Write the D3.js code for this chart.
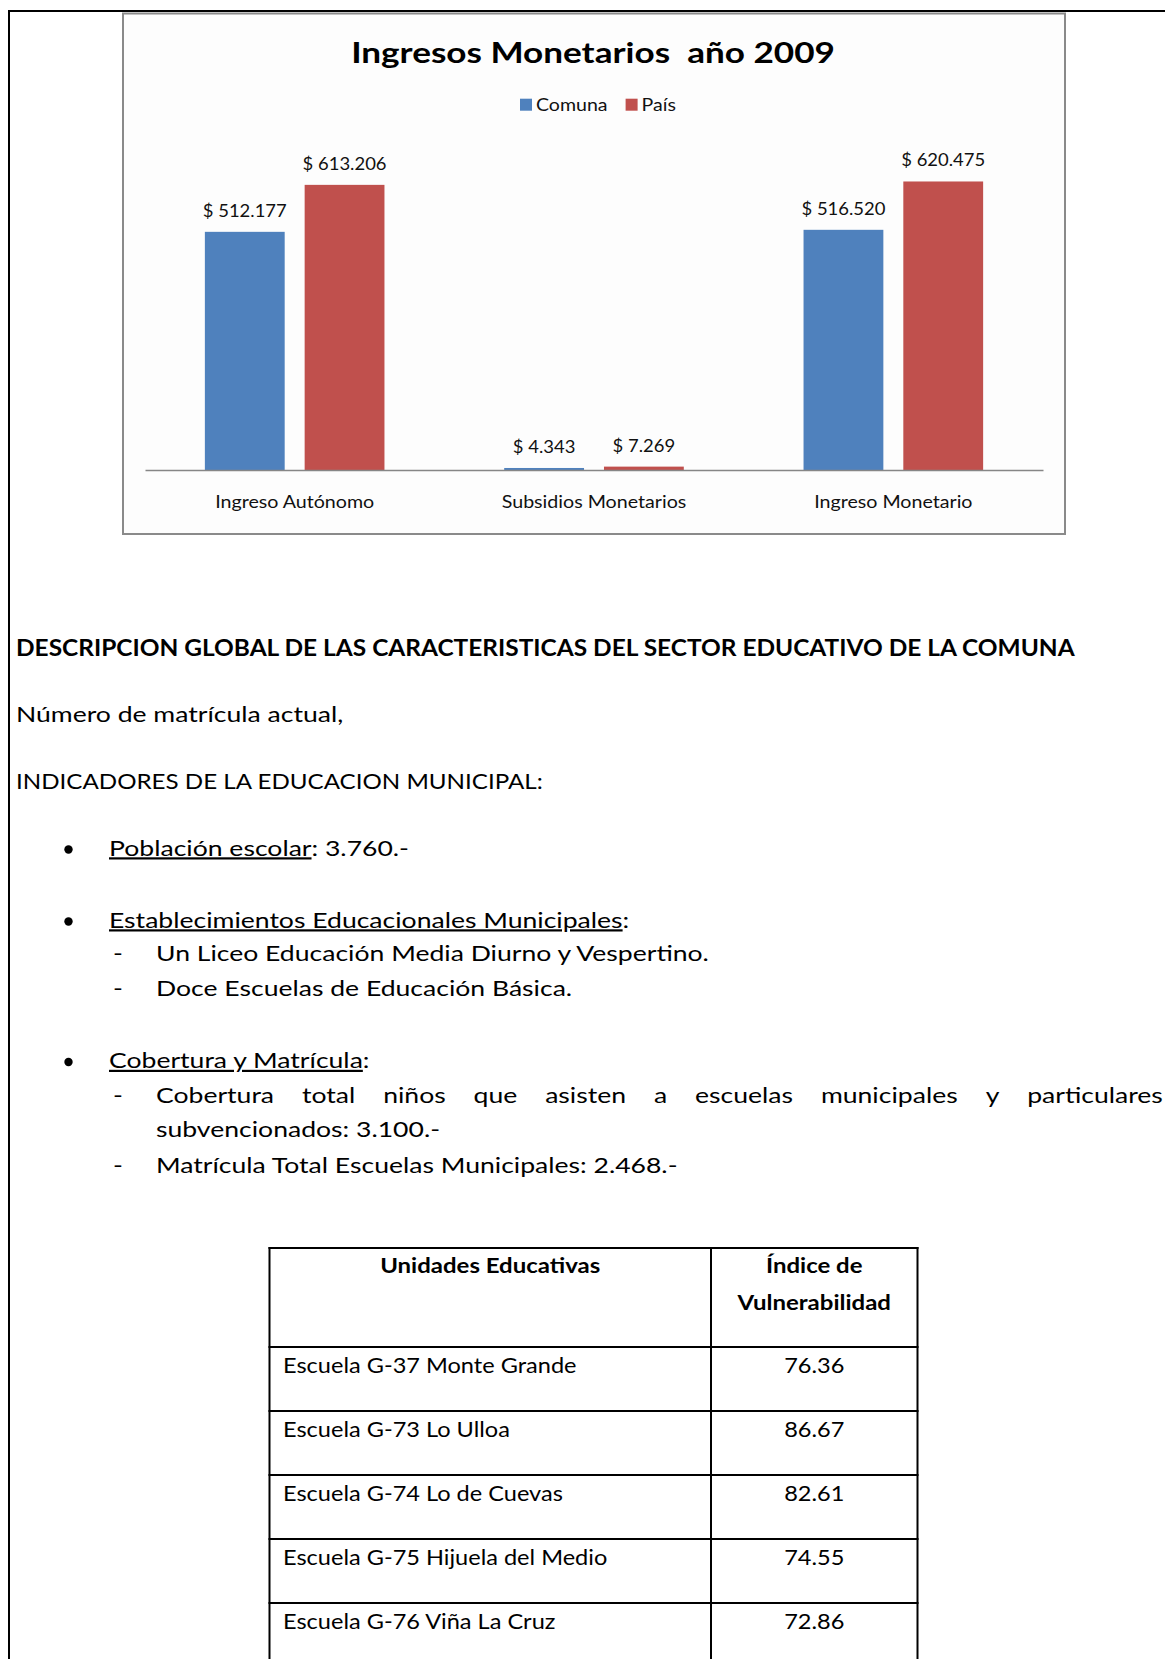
<!DOCTYPE html>
<html><head><meta charset="utf-8">
<script src="https://cdn.jsdelivr.net/npm/d3@7"></script>
<style>
html,body{margin:0;padding:0;background:#fff;}
svg{display:block;}
text{font-family:Lato,"Open Sans",sans-serif;white-space:pre;}
</style></head><body>
<svg id="page" width="1165" height="1659"></svg>
<script>
// ---------------- DATA ----------------
const categories = ["Ingreso Autónomo", "Subsidios Monetarios", "Ingreso Monetario"];
const seriesNames = ["Comuna", "País"];
const comunaValues = [512177, 4343, 516520];
const paisValues = [613206, 7269, 620475];
const chartTitle = "Ingresos Monetarios  año 2009";
const yMax = 700000;

const sectionHeading = "DESCRIPCION GLOBAL DE LAS CARACTERISTICAS DEL SECTOR EDUCATIVO DE LA COMUNA";
const paragraphs = ["Número de matrícula actual,", "INDICADORES DE LA EDUCACION MUNICIPAL:"];
const bulletLabels = ["Población escolar", "Establecimientos Educacionales Municipales", "Cobertura y Matrícula"];
const bulletRests = [": 3.760.-", ":", ":"];
const subItems1 = ["Un Liceo Educación Media Diurno y Vespertino.", "Doce Escuelas de Educación Básica."];
const justifiedWords = ["Cobertura", "total", "niños", "que", "asisten", "a", "escuelas", "municipales", "y", "particulares"];
const continuation = "subvencionados: 3.100.-";
const subItem3b = "Matrícula Total Escuelas Municipales: 2.468.-";

const tableHeaders = [["Unidades Educativas"], ["Índice de", "Vulnerabilidad"]];
const schools = ["Escuela G-37 Monte Grande", "Escuela G-73 Lo Ulloa", "Escuela G-74 Lo de Cuevas", "Escuela G-75 Hijuela del Medio", "Escuela G-76 Viña La Cruz"];
const vulnerability = ["76.36", "86.67", "82.61", "74.55", "72.86"];

// ---------------- HELPERS ----------------
const svg = d3.select("#page");
svg.append("rect").attr("width", 1165).attr("height", 1659).attr("fill", "#fff");

function measure(str, size, weight) {
  const t = svg.append("text").attr("font-size", size).attr("font-weight", weight).text(str);
  const w = t.node().getComputedTextLength();
  t.remove();
  return w;
}
function addText(parent, str, x, y, size, weight, sx, anchor, fill) {
  return parent.append("text")
    .attr("transform", `translate(${x},${y}) scale(${sx},1)`)
    .attr("font-size", size).attr("font-weight", weight)
    .attr("text-anchor", anchor || "start")
    .attr("fill", fill || "#000")
    .text(str);
}

const fmt = d3.formatLocale({decimal: ",", thousands: ".", grouping: [3], currency: ["$ ", ""]}).format("$,d");

// horizontal stretch calibration (reference image is horizontally stretched)
const sxTitle = 484 / measure(chartTitle, 29, 700);
const sxCat = 184.7 / measure(categories[1], 16.5, 400);
const sxLab = 84 / measure(fmt(comunaValues[0]), 17, 400);
const sxLeg = 71.6 / measure(seriesNames[0], 16.5, 400);
const sxHead = 1059 / measure(sectionHeading, 22, 700);
const sxBody = 522 / measure(subItem3b, 22, 400);
const sxCaps = 527 / measure(paragraphs[1], 22, 400);
const sxTH = 220.3 / measure(tableHeaders[0][0], 21, 700);
const sxRow = 324.4 / measure(schools[3], 22, 400);

// ---------------- PAGE BORDER ----------------
svg.append("line").attr("x1", 8).attr("x2", 1165).attr("y1", 11).attr("y2", 11).attr("stroke", "#000").attr("stroke-width", 2);
svg.append("line").attr("x1", 9).attr("x2", 9).attr("y1", 10).attr("y2", 1659).attr("stroke", "#000").attr("stroke-width", 2);

// ---------------- CHART ----------------
const chart = svg.append("g");
chart.append("rect").attr("x", 123).attr("y", 13.5).attr("width", 942).attr("height", 520.5)
  .attr("fill", "#fdfdfd").attr("stroke", "#8a8a8a").attr("stroke-width", 2);

const colors = d3.scaleOrdinal().domain(seriesNames).range(["#4F81BD", "#C0504D"]);
const x = d3.scaleBand().domain(categories).range([145, 1043]).padding(0);
const xs = d3.scaleBand().domain(seriesNames).range([0, x.bandwidth()]).paddingInner(0.2).paddingOuter(0.6);
const y = d3.scaleLinear().domain([0, yMax]).range([470, 144.5]);

addText(chart, chartTitle, 593, 63.3, 29, 700, sxTitle, "middle", "#000");

// legend
const legend = chart.append("g");
let lx = 520;
seriesNames.forEach((s) => {
  legend.append("rect").attr("x", lx).attr("y", 98.7).attr("width", 12).attr("height", 12).attr("fill", colors(s));
  addText(legend, s, lx + 16, 110.7, 16.5, 400, sxLeg, "start", "#111");
  lx += 16 + measure(s, 16.5, 400) * sxLeg + 18;
});

const rows = categories.map((c, i) => ({cat: c, vals: [{s: "Comuna", v: comunaValues[i]}, {s: "País", v: paisValues[i]}]}));
const groups = chart.selectAll("g.grp").data(rows).join("g").attr("class", "grp")
  .attr("transform", d => `translate(${x(d.cat)},0)`);
groups.selectAll("rect").data(d => d.vals).join("rect")
  .attr("x", d => xs(d.s)).attr("width", xs.bandwidth())
  .attr("y", d => y(d.v)).attr("height", d => y(0) - y(d.v))
  .attr("fill", d => colors(d.s));
groups.each(function (d) {
  const g = d3.select(this);
  d.vals.forEach(v => {
    addText(g, fmt(v.v), xs(v.s) + xs.bandwidth() / 2, y(v.v) - 15, 17, 400, sxLab, "middle", "#111");
  });
});

const axis = chart.append("g").attr("transform", `translate(0,${y(0)})`)
  .call(d3.axisBottom(x).tickSize(0).tickSizeOuter(0).tickPadding(26.3));
axis.attr("font-family", null).attr("font-size", null);
axis.select(".domain").attr("stroke", "#868686").attr("stroke-width", 1.3);
axis.selectAll(".tick text").attr("font-size", 16.5).attr("fill", "#111")
  .attr("transform", `scale(${sxCat},1)`);

// ---------------- DOCUMENT TEXT ----------------
const doc = svg.append("g");
addText(doc, sectionHeading, 16, 656, 22, 700, sxHead);
addText(doc, paragraphs[0], 16, 722, 22, 400, sxBody);
addText(doc, paragraphs[1], 16, 789, 22, 400, sxCaps);

const bulletY = [855.5, 927.5, 1068];
bulletLabels.forEach((b, i) => {
  doc.append("circle").attr("cx", 68.5).attr("cy", bulletY[i] - 6).attr("r", 4.2).attr("fill", "#000");
  const t = addText(doc, "", 109, bulletY[i], 22, 400, sxBody);
  t.append("tspan").attr("text-decoration", "underline").text(b);
  t.append("tspan").text(bulletRests[i]);
});

function dash(yy) { addText(doc, "-", 113, yy, 22, 400, sxBody); }
subItems1.forEach((s, i) => {
  const yy = [961, 996][i];
  dash(yy);
  addText(doc, s, 156, yy, 22, 400, sxBody);
});

// justified line
dash(1103);
const wWidths = justifiedWords.map(w => measure(w, 22, 400) * sxBody);
const jStart = 156, jEnd = 1163;
const gap = (jEnd - jStart - d3.sum(wWidths)) / (justifiedWords.length - 1);
let wx = jStart;
justifiedWords.forEach((w, i) => {
  addText(doc, w, wx, 1103, 22, 400, sxBody);
  wx += wWidths[i] + gap;
});
addText(doc, continuation, 156, 1137, 22, 400, sxBody);
dash(1173);
addText(doc, subItem3b, 156, 1173, 22, 400, sxBody);

// ---------------- TABLE ----------------
const table = svg.append("g");
const colX = [269.5, 711, 917.5];
const headTop = 1248, headH = 99, rowH = 64;
const rowScale = d3.scaleLinear().domain([0, 1]).range([headTop + headH, headTop + headH + rowH]);
const hLines = [headTop].concat(d3.range(0, schools.length + 1).map(i => rowScale(i)));
table.selectAll("line.h").data(hLines).join("line").attr("class", "h")
  .attr("x1", colX[0] - 1).attr("x2", colX[2] + 1).attr("y1", d => d).attr("y2", d => d)
  .attr("stroke", "#000").attr("stroke-width", 2);
table.selectAll("line.v").data(colX).join("line").attr("class", "v")
  .attr("x1", d => d).attr("x2", d => d).attr("y1", headTop - 1).attr("y2", 1659)
  .attr("stroke", "#000").attr("stroke-width", 2);

const c1 = (colX[0] + colX[1]) / 2, c2 = (colX[1] + colX[2]) / 2;
tableHeaders.forEach((lines, ci) => {
  lines.forEach((ln, li) => {
    addText(table, ln, ci === 0 ? c1 : c2, headTop + 25 + li * 36.5, 21, 700, sxTH, "middle");
  });
});
schools.forEach((s, i) => {
  addText(table, s, 283, rowScale(i) + 25.5, 22, 400, sxRow);
  addText(table, vulnerability[i], c2, rowScale(i) + 25.5, 22, 400, sxRow, "middle");
});
</script>
</body></html>
